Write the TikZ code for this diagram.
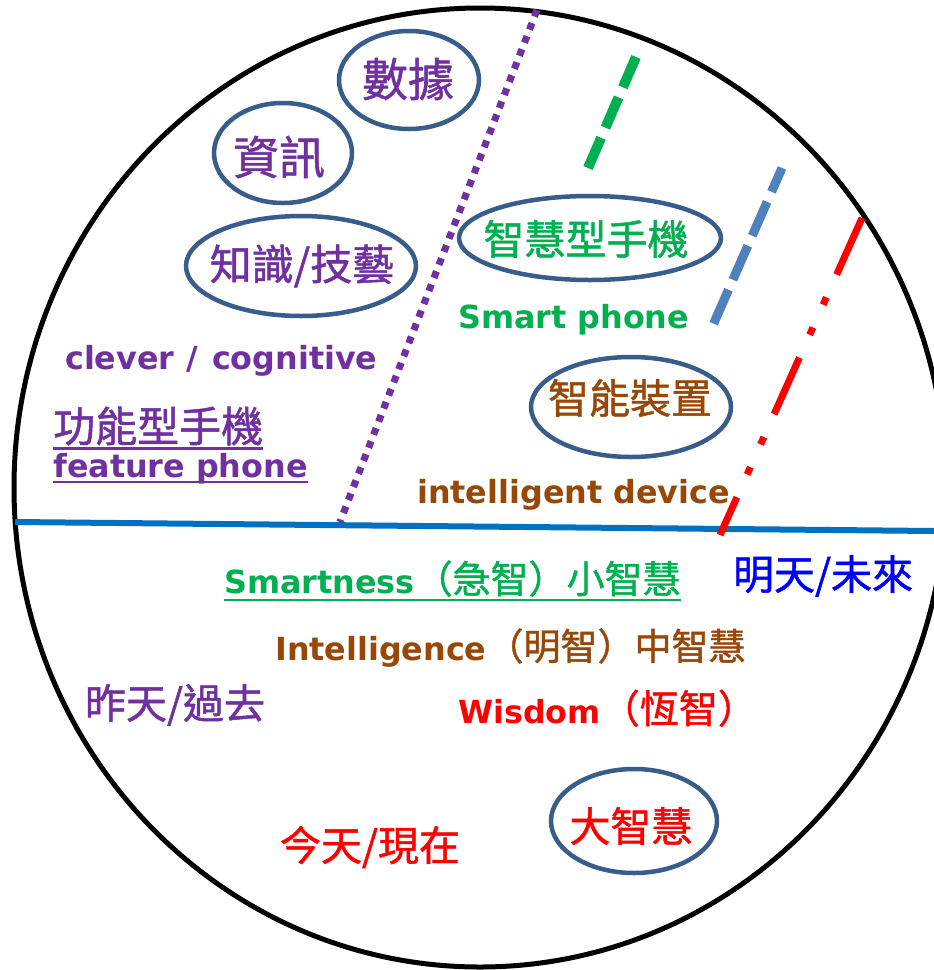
\documentclass[tikz,border=0pt]{standalone}
\usepackage{fontspec}
\setmainfont{DejaVu Sans}
\newfontfamily\cjk[FakeBold=1.2]{Noto Sans CJK TC}
\usetikzlibrary{shapes.geometric,calc}
\definecolor{cpurple}{HTML}{7030A0}
\definecolor{cgreen}{HTML}{00B050}
\definecolor{cbrown}{HTML}{984806}
\definecolor{cred}{HTML}{FF0000}
\definecolor{cblue}{HTML}{0000FF}
\definecolor{lineblue}{HTML}{0070C0}
\definecolor{dashblue}{HTML}{4F81BD}
\definecolor{ovalc}{HTML}{385D8A}
\begin{document}
\begin{tikzpicture}[x=1pt,y=-1pt,
  oval/.style={ellipse, draw=ovalc, line width=4.5pt, inner sep=0pt},
  cjktext/.style={inner sep=0pt, font=\mdseries\cjk\fontsize{#1}{#1}\selectfont},
  entext/.style={inner sep=0pt, anchor=base west, font=\bfseries\fontsize{31.8}{36}\selectfont},
  uline/.style={line width=2.5pt},
]
\useasboundingbox (0,0) rectangle (934,970);
\fill[white] (0,0) rectangle (934,970);
\clip (0,0) rectangle (934,970);

% big circle
\draw[line width=5pt] (480,487.5) ellipse [x radius=466, y radius=479.5];

% horizontal line
\coordinate (bl) at (15,522);
\coordinate (br) at (934,531);
\draw[lineblue, line width=6pt] (bl) -- (br);

% slanted dividers
\coordinate (p1) at (537,10);  \coordinate (p2) at (340,522);
\draw[cpurple, line width=7pt, dash pattern=on 7pt off 7pt] (p1) -- (p2);
\coordinate (g1) at (636,57);  \coordinate (g2) at (588,168);
\draw[cgreen, line width=10pt, dash pattern=on 33pt off 11pt] (g1) -- (g2);
\coordinate (d1) at (782,168); \coordinate (d2) at (713,325);
\draw[dashblue, line width=9pt, dash pattern=on 37pt off 11pt, dash phase=11pt] (d1) -- (d2);
\coordinate (r1) at (862,218); \coordinate (r2) at (720,535);
\draw[cred, line width=7pt, dash pattern=on 62pt off 25pt on 8pt off 25pt on 8pt off 25pt] (r1) -- (r2);

% ellipses
\node[oval, minimum width=140, minimum height=98] (e1) at (409,80) {};
\node[oval, minimum width=138, minimum height=100] (e2) at (283,153) {};
\node[oval, minimum width=230, minimum height=100] (e3) at (301,266) {};
\node[oval, minimum width=262, minimum height=84] (e4) at (590,238) {};
\node[oval, minimum width=200, minimum height=100] (e5) at (631,407) {};
\node[oval, minimum width=166, minimum height=104] (e6) at (634,821) {};

% ellipse texts
\node[cjktext=46, text=cpurple] (t1) at (408,79) {數據};
\node[cjktext=46, text=cpurple] (t2) at (279,157) {資訊};
\node[cjktext=42, text=cpurple] (t3) at (302,266) {知識/技藝};
\node[cjktext=41, text=cgreen] (t4) at (586,239) {智慧型手機};
\node[cjktext=41, text=cbrown] (t5) at (630,398) {智能裝置};
\node[cjktext=41, text=cred] (t6) at (631,826) {大智慧};

% upper left texts
\node[entext, text=cpurple] (cl) at (65,369) {clever\hspace{12pt}/\hspace{14pt}cognitive};
\node[cjktext=42, text=cpurple, anchor=west] (fp1) at (53,426) {功能型手機};
\draw[cpurple, uline] ($(fp1.south west)+(0,3)$) -- ($(fp1.south east)+(0,3)$);
\node[entext, text=cpurple] (fp2) at (53,477) {feature phone};
\draw[cpurple, uline] ($(fp2.base west)+(0,5)$) -- ($(fp2.base east)+(0,5)$);

% upper right texts
\node[entext, text=cgreen] (sp) at (458,328) {Smart phone};
\node[entext, text=cbrown] (id) at (417,503) {intelligent device};

% lower texts
\node[entext, text=cgreen] (sm) at (224,593) {Smartness{\mdseries\cjk\fontsize{38}{38}\selectfont （急智）小智慧}};
\draw[cgreen, uline] ($(sm.base west)+(0,7)$) -- ($(sm.base east)+(0,7)$);
\node[entext, text=cbrown] (in) at (275,660) {Intelligence{\mdseries\cjk\fontsize{37}{37}\selectfont （明智）中智慧}};
\node[entext, text=cred] (wi) at (458,723) {Wisdom{\mdseries\cjk\fontsize{39}{39}\selectfont （恆智）}};

\node[cjktext=41, text=cblue] (fut) at (823,576) {明天/未來};
\node[cjktext=41, text=cpurple] (past) at (175,705) {昨天/過去};
\node[cjktext=41, text=cred] (now) at (370,847) {今天/現在};
\end{tikzpicture}
\end{document}
